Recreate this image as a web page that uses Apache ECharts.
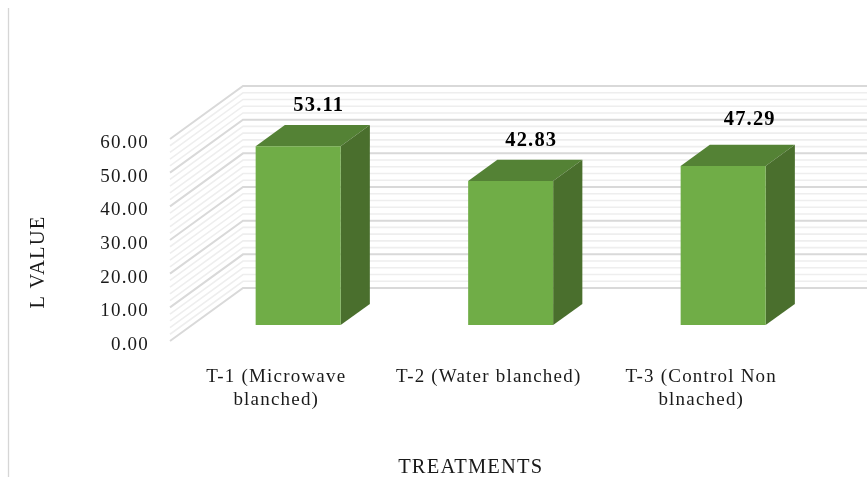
<!DOCTYPE html>
<html>
<head>
<meta charset="utf-8">
<style>html,body{margin:0;padding:0;background:#fff}#c{width:867px;height:478px}</style>
<script src="https://cdn.jsdelivr.net/npm/echarts@6/dist/echarts.min.js"></script>
</head>
<body>
<div id="c"></div>
<script>
const categories = ['T-1 (Microwave\nblanched)', 'T-2 (Water blanched)', 'T-3 (Control Non\nblnached)'];
const lValues = [53.11, 42.83, 47.29];
const valueTicks = [0, 10, 20, 30, 40, 50, 60];
const minorTicks = [];
for (let major = 0; major < 60; major += 10) {
  for (let k = 1; k < 5; k++) minorTicks.push(major + k * 2);
}

// Depth of the pseudo-3D box, in pixels
const DEPTH_X = 73, DEPTH_Y = -53;
const BAR_NEAR = 0.3, BAR_FAR = 0.7;
const FONT = '"Liberation Serif", serif';
// Hand-placed value labels: the third one sits slightly up and to the right
const LABEL_SHIFT = [[0, 0], [0, 0], [6, -6]];

// Wide tracking for all chart text
const nativeFillText = CanvasRenderingContext2D.prototype.fillText;
CanvasRenderingContext2D.prototype.fillText = function (...args) {
  this.letterSpacing = '1.2px';
  return nativeFillText.apply(this, args);
};

const chart = echarts.init(document.getElementById('c'), null, { renderer: 'canvas' });

function wallItem(params, api) {
  const v = api.value(0);
  const major = api.value(1) === 1;
  const area = params.coordSys;
  const p = api.coord([0, v]);
  const x0 = area.x, x1 = area.x + area.width;
  const style = { stroke: major ? '#d9d9d9' : '#eeeeee', lineWidth: major ? 2 : 1.6, fill: null };
  return {
    type: 'polyline',
    silent: true,
    shape: { points: [[x0, p[1]], [x0 + DEPTH_X, p[1] + DEPTH_Y], [x1 + DEPTH_X, p[1] + DEPTH_Y]] },
    style
  };
}

function barItem(params, api) {
  const idx = api.value(0);
  const top = api.coord([idx, api.value(1)]);
  const base = api.coord([idx, 0]);
  const w = api.size([1, 0])[0] * 0.4;
  const nx = DEPTH_X * BAR_NEAR, ny = DEPTH_Y * BAR_NEAR;
  const fx = DEPTH_X * (BAR_FAR - BAR_NEAR), fy = DEPTH_Y * (BAR_FAR - BAR_NEAR);
  const l = top[0] - w / 2 + nx, r = l + w;
  const t = top[1] + ny, b = base[1] + ny;
  const shift = LABEL_SHIFT[idx];
  return {
    type: 'group',
    children: [
      { type: 'polygon', shape: { points: [[l, t], [r, t], [r + fx, t + fy], [l + fx, t + fy]] }, style: { fill: '#548235' } },
      { type: 'polygon', shape: { points: [[r, t], [r + fx, t + fy], [r + fx, b + fy], [r, b]] }, style: { fill: '#4a6f2d' } },
      { type: 'rect', shape: { x: l, y: t, width: w, height: b - t }, style: { fill: '#70ad47' } },
      {
        type: 'text',
        style: {
          x: l + w / 2 + fx / 2 + 6 + shift[0], y: t + fy - 19 + shift[1],
          text: api.value(1).toFixed(2),
          font: 'bold 20.5px ' + FONT,
          fill: '#000', align: 'center', verticalAlign: 'middle'
        }
      }
    ]
  };
}

chart.setOption({
  animation: false,
  backgroundColor: '#fff',
  grid: { left: 170, top: 139, width: 637.5, height: 202, containLabel: false, outerBoundsMode: 'none' },
  xAxis: {
    type: 'category',
    data: categories,
    axisLine: { show: false },
    axisTick: { show: false },
    axisLabel: { color: '#1a1a1a', fontFamily: FONT, fontSize: 19, lineHeight: 23, margin: 25, interval: 0 },
    name: 'TREATMENTS',
    nameLocation: 'middle',
    nameGap: 116,
    nameTextStyle: { color: '#1a1a1a', fontFamily: FONT, fontSize: 20.5, padding: [0, 36, 0, 0] }
  },
  yAxis: {
    type: 'value',
    min: 0,
    max: 60,
    interval: 10,
    splitLine: { show: false },
    axisLine: { show: false },
    axisTick: { show: false },
    axisLabel: {
      color: '#1a1a1a', fontFamily: FONT, fontSize: 19, margin: 21,
      formatter: v => v.toFixed(2), verticalAlign: 'top', lineHeight: 8
    },
    name: 'L VALUE',
    nameLocation: 'middle',
    nameGap: 121,
    nameTextStyle: { color: '#1a1a1a', fontFamily: FONT, fontSize: 20.5, padding: [0, 44, 0, 0] }
  },
  series: [
    {
      type: 'custom', coordinateSystem: 'cartesian2d', renderItem: wallItem, clip: false, silent: true, z: 1,
      encode: { y: 0 },
      data: minorTicks.map(v => [v, 0]).concat(valueTicks.map(v => [v, 1]))
    },
    {
      type: 'custom', coordinateSystem: 'cartesian2d', renderItem: barItem, clip: false, z: 2,
      encode: { x: 0, y: 1 },
      data: lValues.map((v, i) => [i, v])
    }
  ],
  graphic: [
    { type: 'line', shape: { x1: 8.5, y1: 8, x2: 8.5, y2: 477 }, style: { stroke: '#d6d6d6', lineWidth: 1.3 }, silent: true }
  ]
});
</script>
</body>
</html>
